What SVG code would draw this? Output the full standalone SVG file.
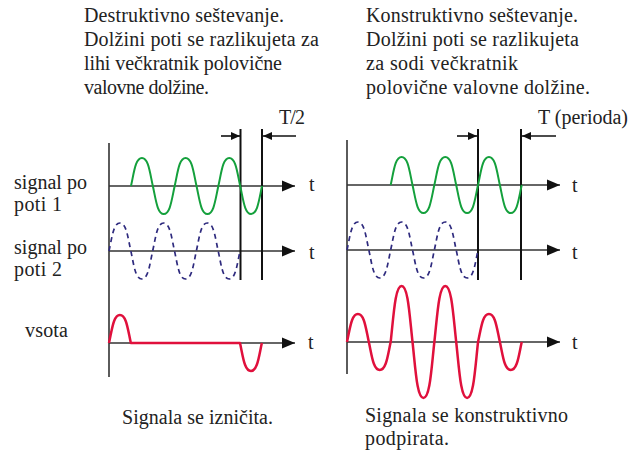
<svg xmlns="http://www.w3.org/2000/svg" width="641" height="451" viewBox="0 0 641 451">
<style>
text{font-family:"Liberation Serif","DejaVu Serif","Noto Serif","Times New Roman",serif;font-size:20px;fill:#222}
.ax{stroke:#333;stroke-width:1.6;fill:none}
.mk{stroke:#111;stroke-width:2;fill:none}
.g{stroke:#14a03c;stroke-width:2;fill:none}
.d{stroke:#2e2a7e;stroke-width:1.7;fill:none;stroke-dasharray:5 4}
.r{stroke:#e0103c;stroke-width:2.5;fill:none;stroke-linejoin:round}
.ar{stroke:#111;stroke-width:1.6;fill:none}
</style>
<defs>
<marker id="tip" markerWidth="14" markerHeight="12" refX="13" refY="6" orient="auto" markerUnits="userSpaceOnUse">
<path d="M0,0.5 L13,6 L0,11.5 Z" fill="#111"/>
</marker>
<marker id="sm" markerWidth="10" markerHeight="10" refX="9" refY="5" orient="auto" markerUnits="userSpaceOnUse">
<path d="M0,1 L9,5 L0,9 Z" fill="#111"/>
</marker>
</defs>

<g id="texts">
<text x="84" y="22" textLength="200">Destruktivno seštevanje.</text>
<text x="84" y="46" textLength="235">Dolžini poti se razlikujeta za</text>
<text x="84" y="70" textLength="198">lihi večkratnik polovične</text>
<text x="84" y="94" textLength="125">valovne dolžine.</text>
<text x="366" y="22" textLength="212">Konstruktivno seštevanje.</text>
<text x="366" y="46" textLength="213">Dolžini poti se razlikujeta</text>
<text x="366" y="70" textLength="152">za sodi večkratnik</text>
<text x="366" y="94" textLength="224">polovične valovne dolžine.</text>
</g>

<g id="labels">
<text x="14" y="189" textLength="73">signal po</text>
<text x="14" y="211" textLength="48">poti 1</text>
<text x="14" y="254" textLength="73">signal po</text>
<text x="14" y="276" textLength="48">poti 2</text>
<text x="25" y="337" textLength="43">vsota</text>
</g>

<g id="connectors">
<line class="ax" x1="109" y1="143" x2="109" y2="377"/>
<line class="ax" x1="109" y1="186" x2="295" y2="186" marker-end="url(#tip)"/>
<line class="ax" x1="109" y1="251" x2="295" y2="251" marker-end="url(#tip)"/>
<line class="ax" x1="109" y1="343" x2="295" y2="343" marker-end="url(#tip)"/>
<line class="ax" x1="347" y1="140" x2="347" y2="374"/>
<line class="ax" x1="347" y1="185" x2="560" y2="185" marker-end="url(#tip)"/>
<line class="ax" x1="347" y1="250" x2="560" y2="250" marker-end="url(#tip)"/>
<line class="ax" x1="347" y1="342" x2="560" y2="342" marker-end="url(#tip)"/>
<line class="mk" x1="240.5" y1="129" x2="240.5" y2="280"/>
<line class="mk" x1="262" y1="129" x2="262" y2="280"/>
<line class="mk" x1="478" y1="129" x2="478" y2="280"/>
<line class="mk" x1="521" y1="129" x2="521" y2="280"/>
<line class="ar" x1="221" y1="136" x2="240" y2="136" marker-end="url(#sm)"/>
<line class="ar" x1="296" y1="136" x2="263" y2="136" marker-end="url(#sm)"/>
<line class="ar" x1="457" y1="136" x2="477" y2="136" marker-end="url(#sm)"/>
<line class="ar" x1="556" y1="136" x2="522" y2="136" marker-end="url(#sm)"/>
</g>

<g id="left-signals">
<path class="g" d="M131,186 c3,-13.5 4.42,-28 10.92,-28 c6.5,0 7.92,14.5 10.92,28 c3,13.5 4.42,28 10.92,28 c6.5,0 7.92,-14.5 10.92,-28 c3,-13.5 4.42,-28 10.92,-28 c6.5,0 7.92,14.5 10.92,28 c3,13.5 4.42,28 10.92,28 c6.5,0 7.92,-14.5 10.92,-28 c3,-13.5 4.42,-28 10.92,-28 c6.5,0 7.92,14.5 10.92,28 c3,13.5 4.42,28 10.92,28 c6.5,0 7.92,-14.5 10.92,-28"/>
<path class="d" d="M109,251 c3,-13.5 4.42,-28 10.92,-28 c6.5,0 7.92,14.5 10.92,28 c3,13.5 4.42,28 10.92,28 c6.5,0 7.92,-14.5 10.92,-28 c3,-13.5 4.42,-28 10.92,-28 c6.5,0 7.92,14.5 10.92,28 c3,13.5 4.42,28 10.92,28 c6.5,0 7.92,-14.5 10.92,-28 c3,-13.5 4.42,-28 10.92,-28 c6.5,0 7.92,14.5 10.92,28 c3,13.5 4.42,28 10.92,28 c6.5,0 7.92,-14.5 10.92,-28"/>
<path class="r" d="M109,343 c3,-13.5 4.42,-28 10.92,-28 c6.5,0 7.92,14.5 10.92,28 L240,343 c3,13.5 4.42,28 10.92,28 c6.5,0 7.92,-14.5 10.92,-28"/>
</g>

<g id="right-signals">
<path class="g" d="M390.67,185 c3,-13.5 4.42,-28 10.92,-28 c6.5,0 7.92,14.5 10.92,28 c3,13.5 4.42,28 10.92,28 c6.5,0 7.92,-14.5 10.92,-28 c3,-13.5 4.42,-28 10.92,-28 c6.5,0 7.92,14.5 10.92,28 c3,13.5 4.42,28 10.92,28 c6.5,0 7.92,-14.5 10.92,-28 c3,-13.5 4.42,-28 10.92,-28 c6.5,0 7.92,14.5 10.92,28 c3,13.5 4.42,28 10.92,28 c6.5,0 7.92,-14.5 10.92,-28"/>
<path class="d" d="M347,250 c3,-13.5 4.42,-28 10.92,-28 c6.5,0 7.92,14.5 10.92,28 c3,13.5 4.42,28 10.92,28 c6.5,0 7.92,-14.5 10.92,-28 c3,-13.5 4.42,-28 10.92,-28 c6.5,0 7.92,14.5 10.92,28 c3,13.5 4.42,28 10.92,28 c6.5,0 7.92,-14.5 10.92,-28 c3,-13.5 4.42,-28 10.92,-28 c6.5,0 7.92,14.5 10.92,28 c3,13.5 4.42,28 10.92,28 c6.5,0 7.92,-14.5 10.92,-28"/>
<path class="r" d="M347,342 c3,-13.5 4.42,-28 10.92,-28 c6.5,0 7.92,14.5 10.92,28 c3,13.5 4.42,28 10.92,28 c6.5,0 7.92,-14.5 10.92,-28 c3,-27 4.42,-56 10.92,-56 c6.5,0 7.92,29 10.92,56 c3,27 4.42,56 10.92,56 c6.5,0 7.92,-29 10.92,-56 c3,-27 4.42,-56 10.92,-56 c6.5,0 7.92,29 10.92,56 c3,27 4.42,56 10.92,56 c6.5,0 7.92,-29 10.92,-56 c3,-13.5 4.42,-28 10.92,-28 c6.5,0 7.92,14.5 10.92,28 c3,13.5 4.42,28 10.92,28 c6.5,0 7.92,-14.5 10.92,-28"/>
</g>

<g id="axis-labels">
<text x="309" y="191">t</text>
<text x="309" y="259">t</text>
<text x="308" y="349">t</text>
<text x="572" y="192">t</text>
<text x="572" y="259">t</text>
<text x="572" y="349">t</text>
<text x="279" y="124" textLength="26">T/2</text>
<text x="538" y="124" textLength="90">T (perioda)</text>
</g>

<g id="captions">
<text x="122" y="424" textLength="151">Signala se izničita.</text>
<text x="365" y="422" textLength="203">Signala se konstruktivno</text>
<text x="365" y="445" textLength="84">podpirata.</text>
</g>
</svg>
